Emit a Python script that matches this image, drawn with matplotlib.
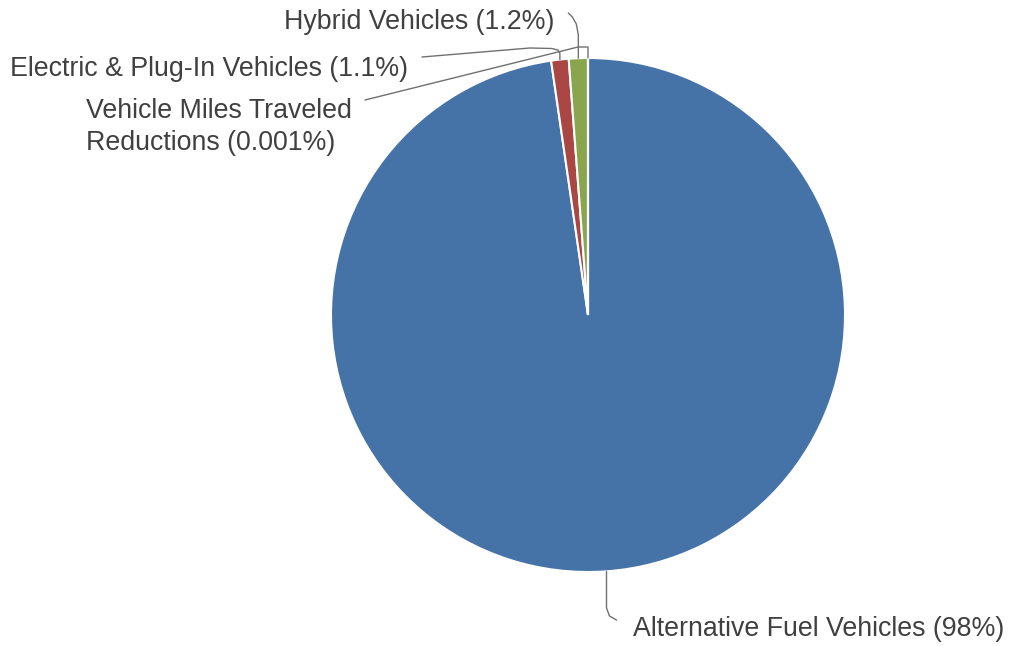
import numpy as np
import matplotlib.pyplot as plt

plt.rcParams['font.family'] = ['Liberation Sans', 'DejaVu Sans']

categories = ['Alternative Fuel Vehicles', 'Electric & Plug-In Vehicles',
              'Hybrid Vehicles', 'Vehicle Miles Traveled\nReductions']
shares = [98, 1.1, 1.2, 0.001]
share_text = ['98%', '1.1%', '1.2%', '0.001%']
colors = ['#4573a7', '#aa4643', '#89a54e', '#71588f']

W, H = 1009, 646
fig = plt.figure(figsize=(W / 100, H / 100), dpi=100)
ax = fig.add_axes([0, 0, 1, 1])

cx, cy, r = 588, H - 315, 257
wedges, _ = ax.pie(shares, colors=colors, startangle=90, counterclock=False,
                   center=(cx, cy), radius=r, frame=True,
                   wedgeprops=dict(edgecolor='white', linewidth=1.5))
ax.set_xlim(0, W)
ax.set_ylim(0, H)
ax.axis('off')


def rim(w):
    a = np.deg2rad((w.theta1 + w.theta2) / 2)
    return cx + r * np.cos(a), cy + r * np.sin(a)


def up(y):
    return H - y


line_kw = dict(color='#707070', lw=1.0, solid_capstyle='round')
text_kw = dict(fontsize=19.3, color='#404040')

# Alternative fuel: drop down from the bottom of the pie
x, y = rim(wedges[0])
ax.plot([x, x, x + 3, x + 10], [y, up(608), up(616), up(620)], **line_kw)
ax.text(633, up(629), f'{categories[0]} ({share_text[0]})', va='center', ha='left', **text_kw)

# Electric & plug-in
x, y = rim(wedges[1])
ax.plot([x, x, x - 2, x - 8, x - 30, 422], [y, up(53), up(50), up(48.5), up(48), up(57)], **line_kw)
ax.text(408, up(69), f'{categories[1]} ({share_text[1]})', va='center', ha='right', **text_kw)

# Hybrid
x, y = rim(wedges[2])
ax.plot([x, x, x - 2, x - 6, x - 10], [y, up(35), up(24), up(17), up(13)], **line_kw)
ax.text(554, up(22), f'{categories[2]} ({share_text[2]})', va='center', ha='right', **text_kw)

# Vehicle miles traveled
x, y = rim(wedges[3])
ax.plot([x, x, x - 10, 365], [y, up(47), up(47), up(100)], **line_kw)
ax.text(86, up(127), f'{categories[3]} ({share_text[3]})', va='center', ha='left',
        linespacing=1.3, **text_kw)

fig.savefig('out.png', dpi=100, facecolor='white')
